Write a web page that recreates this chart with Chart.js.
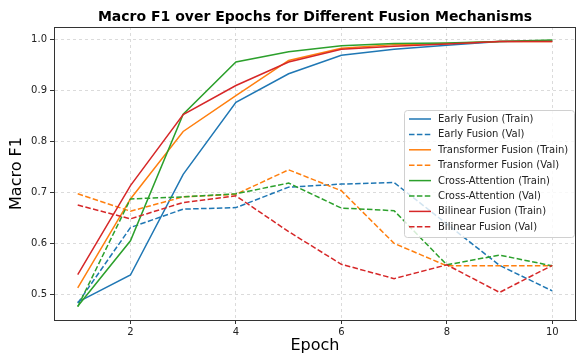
<!DOCTYPE html>
<html>
<head>
<meta charset="utf-8">
<script src="https://cdn.jsdelivr.net/npm/chart.js@4/dist/chart.umd.min.js"></script>
<style>
  html, body { margin: 0; padding: 0; background: #fff; }
  #wrap { width: 578px; height: 356px; }
</style>
</head>
<body>
<div id="wrap"><canvas id="f1Chart" width="578" height="356"></canvas></div>
<script>
const epochs = [1, 2, 3, 4, 5, 6, 7, 8, 9, 10];
const xTicks = [2, 4, 6, 8, 10];
const yTicks = [0.5, 0.6, 0.7, 0.8, 0.9, 1.0];

const earlyTrain = [0.485, 0.538, 0.735, 0.876, 0.932, 0.968, 0.980, 0.988, 0.995, 0.996];
const earlyVal = [0.483, 0.631, 0.667, 0.670, 0.710, 0.716, 0.719, 0.638, 0.557, 0.507];
const transTrain = [0.513, 0.687, 0.819, 0.889, 0.958, 0.982, 0.989, 0.991, 0.995, 0.995];
const transVal = [0.697, 0.663, 0.691, 0.696, 0.744, 0.703, 0.600, 0.556, 0.556, 0.556];
const crossTrain = [0.477, 0.605, 0.853, 0.955, 0.975, 0.987, 0.991, 0.992, 0.995, 0.998];
const crossVal = [0.476, 0.687, 0.691, 0.697, 0.718, 0.669, 0.664, 0.558, 0.577, 0.556];
const bilTrain = [0.539, 0.713, 0.852, 0.909, 0.955, 0.980, 0.986, 0.990, 0.995, 0.995];
const bilVal = [0.675, 0.648, 0.680, 0.693, 0.623, 0.559, 0.531, 0.558, 0.504, 0.557];

const series = [
    { label: 'Early Fusion (Train)', data: earlyTrain, color: '#1f77b4', dashed: false },
    { label: 'Early Fusion (Val)', data: earlyVal, color: '#1f77b4', dashed: true },
    { label: 'Transformer Fusion (Train)', data: transTrain, color: '#ff7f0e', dashed: false },
    { label: 'Transformer Fusion (Val)', data: transVal, color: '#ff7f0e', dashed: true },
    { label: 'Cross-Attention (Train)', data: crossTrain, color: '#2ca02c', dashed: false },
    { label: 'Cross-Attention (Val)', data: crossVal, color: '#2ca02c', dashed: true },
    { label: 'Bilinear Fusion (Train)', data: bilTrain, color: '#d62728', dashed: false },
    { label: 'Bilinear Fusion (Val)', data: bilVal, color: '#d62728', dashed: true }
];

const DASH = [5.5, 2.4];

const datasets = series.map((s, i) => ({
    label: s.label,
    data: epochs.map((e, j) => ({ x: e, y: s.data[j] })),
    borderColor: s.color,
    backgroundColor: s.color,
    borderWidth: 1.5,
    borderDash: s.dashed ? DASH : [],
    pointRadius: 0,
    tension: 0,
    fill: false,
    order: series.length - i
}));

// title, axis labels, frame and legend drawn by hand (matplotlib style)
const decorations = {
    id: 'decorations',
    afterDatasetsDraw(chart) {
        const ctx = chart.ctx;
        const a = chart.chartArea;
        ctx.save();

        // full frame
        ctx.strokeStyle = '#333';
        ctx.lineWidth = 1;
        ctx.setLineDash([]);
        ctx.strokeRect(Math.round(a.left) + 0.5, Math.round(a.top) + 0.5,
            Math.round(a.right - a.left) - 1, Math.round(a.bottom - a.top));

        // title
        ctx.fillStyle = '#000';
        ctx.font = 'bold 14px "DejaVu Sans"';
        ctx.textAlign = 'center';
        ctx.textBaseline = 'alphabetic';
        ctx.fillText('Macro F1 over Epochs for Different Fusion Mechanisms', (a.left + a.right) / 2, 21);

        // axis titles
        ctx.font = '16px "DejaVu Sans"';
        ctx.textBaseline = 'middle';
        ctx.fillText('Epoch', (a.left + a.right) / 2, 346);
        ctx.save();
        ctx.translate(17, (a.top + a.bottom) / 2);
        ctx.rotate(-Math.PI / 2);
        ctx.fillText('Macro F1', 0, 0);
        ctx.restore();

        // legend
        const lx = 404, ly = 110, lw = 170, lh = 127, rowH = 15.4;
        ctx.beginPath();
        ctx.roundRect(lx + 0.5, ly + 0.5, lw, lh, 3);
        ctx.fillStyle = 'rgba(255,255,255,0.8)';
        ctx.fill();
        ctx.strokeStyle = '#d0d0d0';
        ctx.lineWidth = 1;
        ctx.stroke();

        ctx.font = '10px "DejaVu Sans"';
        ctx.textAlign = 'left';
        ctx.textBaseline = 'middle';
        chart.data.datasets.forEach((ds, i) => {
            const y = ly + 9 + i * rowH;
            ctx.beginPath();
            ctx.setLineDash(ds.borderDash || []);
            ctx.strokeStyle = ds.borderColor;
            ctx.lineWidth = 1.5;
            ctx.moveTo(409, y);
            ctx.lineTo(431, y);
            ctx.stroke();
            ctx.setLineDash([]);
            ctx.fillStyle = '#222';
            ctx.fillText(ds.label, 438, y + 0.5);
        });
        ctx.restore();
    }
};

const ctx = document.getElementById('f1Chart').getContext('2d');
const f1Chart = new Chart(ctx, {
    type: 'line',
    data: { datasets: datasets },
    options: {
        responsive: false,
        animation: false,
        events: [],
        layout: { padding: { top: 27, right: 2, left: 0, bottom: 0 } },
        plugins: {
            legend: { display: false },
            title: { display: false },
            tooltip: { enabled: false }
        },
        scales: {
            x: {
                type: 'linear',
                min: 0.55,
                max: 10.45,
                afterBuildTicks: axis => { axis.ticks = xTicks.map(v => ({ value: v })); },
                afterFit: axis => { axis.height = 36; },
                ticks: {
                    color: '#222',
                    font: { family: 'DejaVu Sans', size: 10 },
                    padding: 2,
                    maxRotation: 0
                },
                grid: {
                    color: 'rgba(0,0,0,0.18)',
                    lineWidth: 0.8,
                    tickColor: '#333',
                    tickLength: 4,
                    tickWidth: 1
                },
                border: { display: true, color: '#333', width: 1, dash: [3, 3] }
            },
            y: {
                min: 0.45,
                max: 1.0235,
                afterBuildTicks: axis => { axis.ticks = yTicks.map(v => ({ value: v })); },
                afterFit: axis => { axis.width = 54; },
                ticks: {
                    color: '#222',
                    font: { family: 'DejaVu Sans', size: 10 },
                    padding: 3,
                    callback: v => v.toFixed(1)
                },
                grid: {
                    color: 'rgba(0,0,0,0.18)',
                    lineWidth: 0.8,
                    tickColor: '#333',
                    tickLength: 4,
                    tickWidth: 1
                },
                border: { display: true, color: '#333', width: 1, dash: [3, 3] }
            }
        }
    },
    plugins: [decorations]
});
</script>
</body>
</html>
